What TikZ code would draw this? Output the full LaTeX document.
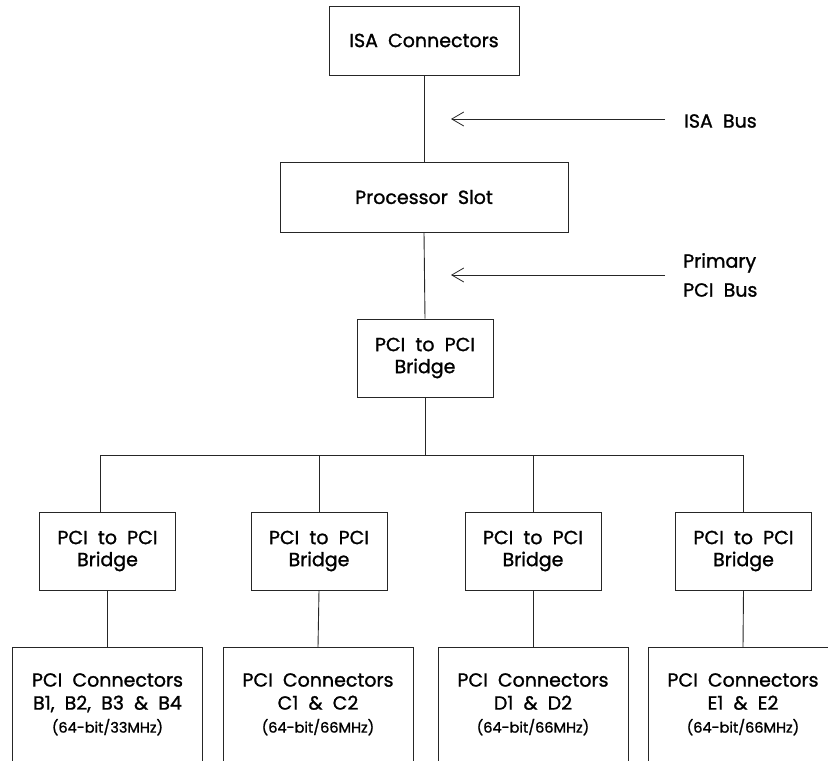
\documentclass[tikz,border=0pt]{standalone}
\usepackage{fontspec}
\setmainfont[WordSpace=2,FakeBold=1.2]{Poppins}
\usetikzlibrary{arrows.meta}
\newcommand{\smallfnt}{\fontsize{14.5}{16}\selectfont}
\tikzset{
  wire/.style={draw=black!85, line width=0.9pt},
  boxnode/.style={wire, rectangle, inner sep=0pt, align=center,
    font=\fontsize{19}{22}\selectfont},
  bridgebox/.style={boxnode, minimum width=136pt, minimum height=78pt},
  conbox/.style={wire, rectangle, inner sep=0pt, minimum width=190pt, minimum height=170pt},
  conlabel/.style={inner sep=0pt, align=center, font=\fontsize{19}{23}\selectfont},
  buslabel/.style={inner sep=0pt, align=left, font=\fontsize{19}{29}\selectfont},
  busarrow/.style={wire, line width=0.8pt, -{Straight Barb[length=12pt,width=14pt]}}
}
\begin{document}
\begin{tikzpicture}[x=1pt,y=-1pt]
\useasboundingbox (0,0) rectangle (828,761);
\clip (0,0) rectangle (828,761);

% top boxes
\node[boxnode, minimum width=190pt, minimum height=69pt] (isa) at (424,40.5) {ISA Connectors};
\node[boxnode, minimum width=288pt, minimum height=70pt] (proc) at (424,197) {Processor Slot};
\node[bridgebox] (br0) at (425,358) {PCI to PCI\\Bridge};

% bus labels and arrows
\node[buslabel, anchor=west] (isalbl) at (684,121) {ISA Bus};
\coordinate (isatip) at (451,119);
\draw[busarrow] (665,119) -- (isatip);

\node[buslabel, anchor=west] (pcilbl) at (683,275) {Primary\\PCI Bus};
\coordinate (pcitip) at (451,275);
\draw[busarrow] (665,275) -- (pcitip);

% lower bridges
\node[bridgebox] (br1) at (107.5,551) {PCI to PCI\\Bridge};
\node[bridgebox] (br2) at (319,551) {PCI to PCI\\Bridge};
\node[bridgebox] (br3) at (533,551) {PCI to PCI\\Bridge};
\node[bridgebox] (br4) at (743.5,551) {PCI to PCI\\Bridge};

% connector boxes (open below the picture edge)
\node[conbox, anchor=north] (con1) at (107.5,647) {};
\node[conbox, anchor=north] (con2) at (318,647) {};
\node[conbox, anchor=north] (con3) at (533,647) {};
\node[conbox, anchor=north] (con4) at (743,647) {};

\node[conlabel, anchor=north] (con1t) at ([yshift=-26pt]con1.north) {PCI Connectors\\B1, B2, B3 \& B4\\{\smallfnt(64-bit/33MHz)}};
\node[conlabel, anchor=north] (con2t) at ([yshift=-26pt]con2.north) {PCI Connectors\\C1 \& C2\\{\smallfnt(64-bit/66MHz)}};
\node[conlabel, anchor=north] (con3t) at ([yshift=-26pt]con3.north) {PCI Connectors\\D1 \& D2\\{\smallfnt(64-bit/66MHz)}};
\node[conlabel, anchor=north] (con4t) at ([yshift=-26pt]con4.north) {PCI Connectors\\E1 \& E2\\{\smallfnt(64-bit/66MHz)}};

% connectors
\coordinate (busL) at (100,455);
\coordinate (busR) at (743,455);
\draw[wire] (isa.south) -- (proc.north);
\draw[wire] (proc.south) -- (br0.north);
\draw[wire] (br0.south) -- (br0.south |- busL);
\draw[wire] (busL) -- (busR);
\draw[wire] (busL) -- (busL |- br1.north);
\draw[wire] (br2.north |- busL) -- (br2.north);
\draw[wire] (br3.north |- busL) -- (br3.north);
\draw[wire] (busR) -- (busR |- br4.north);
\draw[wire] (br1.south) -- (con1.north);
\draw[wire] (br2.south) -- (con2.north);
\draw[wire] (br3.south) -- (con3.north);
\draw[wire] (br4.south) -- (con4.north);
\end{tikzpicture}
\end{document}
